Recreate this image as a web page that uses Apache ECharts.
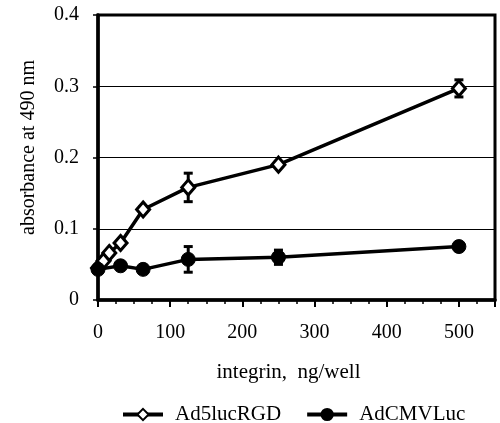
<!DOCTYPE html>
<html>
<head>
<meta charset="utf-8">
<script src="https://cdn.jsdelivr.net/npm/echarts@6/dist/echarts.min.js"></script>
<style>html,body{margin:0;padding:0;background:#fff;}#c{width:500px;height:423px;}</style>
</head>
<body>
<div id="c"></div>
<script>
var rgdX = [0, 7.8, 15.6, 31.25, 62.5, 125, 250, 500];
var rgdY = [0.045, 0.055, 0.066, 0.080, 0.127, 0.158, 0.190, 0.297];
var rgdErr = [0, 0, 0, 0, 0.004, 0.02, 0.004, 0.012];
var cmvX = [0, 31.25, 62.5, 125, 250, 500];
var cmvY = [0.043, 0.048, 0.043, 0.057, 0.060, 0.075];
var cmvErr = [0, 0.004, 0, 0.018, 0.01, 0];
var xTicks = [0, 100, 200, 300, 400, 500];
var yTicks = [0, 0.1, 0.2, 0.3, 0.4];
var names = ['Ad5lucRGD', 'AdCMVLuc'];

var font = 'Liberation Serif';
function pairs(xs, ys) { return xs.map(function (x, i) { return [x, ys[i]]; }); }
function errData(xs, ys, es) { return xs.map(function (x, i) { return [x, ys[i] - es[i], ys[i] + es[i]]; }).filter(function (d) { return d[2] > d[1]; }); }
function errRender(params, api) {
  var lo = api.coord([api.value(0), api.value(1)]);
  var hi = api.coord([api.value(0), api.value(2)]);
  var w = 4.5;
  var st = { stroke: '#000', lineWidth: 3 };
  return { type: 'group', children: [
    { type: 'line', shape: { x1: lo[0], y1: lo[1], x2: hi[0], y2: hi[1] }, style: st },
    { type: 'line', shape: { x1: lo[0] - w, y1: lo[1], x2: lo[0] + w, y2: lo[1] }, style: st },
    { type: 'line', shape: { x1: hi[0] - w, y1: hi[1], x2: hi[0] + w, y2: hi[1] }, style: st }
  ]};
}
var chart = echarts.init(document.getElementById('c'), null, { renderer: 'canvas' });
chart.setOption({
  animation: false,
  backgroundColor: '#fff',
  grid: { left: 98, right: 5, top: 15, bottom: 123, show: true, borderColor: '#000', borderWidth: 3, containLabel: false },
  legend: {
    top: 399, left: 116, itemWidth: 40, itemHeight: 14, itemGap: 24,
    data: names,
    lineStyle: { width: 4, color: '#000' },
    textStyle: { fontFamily: font, fontSize: 21, color: '#000', padding: [0, 0, 0, 7] }
  },
  xAxis: {
    type: 'value', min: 0, max: 550, interval: 100,
    axisLine: { show: true, lineStyle: { color: '#000', width: 3.5 } },
    axisTick: { show: true, length: 7, lineStyle: { color: '#000', width: 2 } },
    minorTick: { show: true, splitNumber: 4, length: 4, lineStyle: { color: '#000', width: 1.5 } },
    splitLine: { show: false },
    axisLabel: { margin: 23, fontFamily: font, fontSize: 20, color: '#000',
      customValues: xTicks },
    name: 'integrin,  ng/well', nameLocation: 'middle', nameGap: 62,
    nameTextStyle: { fontFamily: font, fontSize: 21, color: '#000', padding: [0, 16, 0, 0] }
  },
  yAxis: {
    type: 'value', min: 0, max: 0.4, interval: 0.1,
    axisLine: { show: true, lineStyle: { color: '#000', width: 3.5 } },
    axisTick: { show: true, length: 5, lineStyle: { color: '#000', width: 1.5 } },
    splitLine: { show: true, lineStyle: { color: '#000', width: 1.2 } },
    axisLabel: { margin: 19, fontFamily: font, fontSize: 20, color: '#000',
      formatter: function (v) { return yTicks.indexOf(Math.round(v * 10) / 10) >= 0 ? (v === 0 ? '0' : v.toFixed(1)) : ''; } },
    name: 'absorbance at 490 nm', nameLocation: 'middle', nameGap: 59,
    nameTextStyle: { fontFamily: font, fontSize: 20, color: '#000', padding: [0, 0, 0, 20] }
  },
  series: [
    { type: 'custom', renderItem: errRender, data: errData(rgdX, rgdY, rgdErr), z: 3, silent: true },
    { type: 'custom', renderItem: errRender, data: errData(cmvX, cmvY, cmvErr), z: 3, silent: true },
    { name: names[0], type: 'line', data: pairs(rgdX, rgdY), symbol: 'diamond', symbolSize: [13, 15],
      lineStyle: { color: '#000', width: 3.5 }, itemStyle: { color: '#fff', borderColor: '#000', borderWidth: 3 }, z: 4 },
    { name: names[1], type: 'line', data: pairs(cmvX, cmvY), symbol: 'circle', symbolSize: 14,
      lineStyle: { color: '#000', width: 3.5 }, itemStyle: { color: '#000', borderColor: '#000', borderWidth: 1 }, z: 5 }
  ]
});
</script>
</body>
</html>
